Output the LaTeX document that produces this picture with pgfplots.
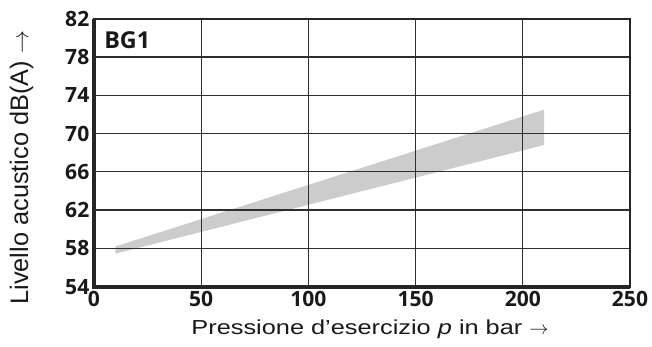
\documentclass[border=0pt]{standalone}
\usepackage{fontspec}
\setmainfont{Liberation Sans}
\newfontfamily\tickfont{Open Sans}
\newfontfamily\xlabfont[FakeStretch=1.25]{Liberation Sans}
\usepackage{pgfplots}
\pgfplotsset{compat=1.18}
\begin{document}
\begin{tikzpicture}
\useasboundingbox (-70.5pt,-45pt) rectangle (418.5pt,215pt);
\begin{axis}[
  scale only axis,
  width=402pt, height=201pt,
  xmin=0, xmax=250, ymin=54, ymax=82,
  xtick={0,50,...,250}, ytick={54,58,...,82},
  grid=major,
  grid style={draw=black!82, line width=0.95pt},
  major tick length=0pt,
  axis line style={draw=black!85, line width=1.3pt},
  /pgf/number format/assume math mode=true,
  ticklabel style={font=\tickfont\bfseries\fontsize{15.8}{15.8}\selectfont, text=black!90},
  xticklabel style={yshift=0pt},
  yticklabel style={xshift=0pt},
  xlabel={\xlabfont Pressione d’esercizio \textit{p} in bar $\rightarrow$},
  ylabel={Livello acustico dB(A) $\rightarrow$},
  xlabel style={font=\fontsize{15.2}{16}\selectfont, text=black!90, at={(rel axis cs:0.515,-0.16)}, anchor=center},
  ylabel style={font=\fontsize{19}{20}\selectfont, text=black!90, at={(rel axis cs:-0.135,0.444)}, anchor=center},
  clip=false,
  axis on top,
]
\addplot[fill=black!20, draw=none] coordinates {
  (10,57.45) (210,68.8) (210,72.5) (10,58.2)} -- cycle;
\draw[black!85, line width=2.8pt] (rel axis cs:0,1) -- (rel axis cs:0,0) -- (rel axis cs:1,0);
\node[anchor=north west, inner sep=0pt, font=\tickfont\bfseries\fontsize{17.5}{17.5}\selectfont, text=black!90] at ([xshift=7.5pt,yshift=-9.5pt]rel axis cs:0,1) {BG1};
\end{axis}
\end{tikzpicture}
\end{document}
